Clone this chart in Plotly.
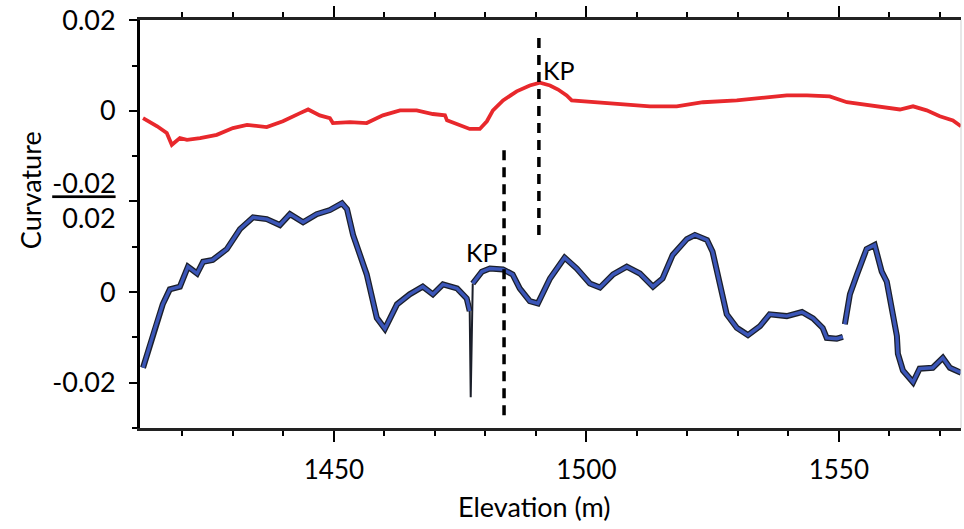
import plotly.graph_objects as go

# Upper profile (red): curvature vs elevation
red_elev = [1412.2, 1415.0, 1416.9, 1417.9, 1419.5, 1420.9, 1423.5, 1426.8, 1430.0, 1432.8,
            1436.7, 1439.9, 1443.3, 1444.9, 1447.2, 1449.2, 1449.8, 1453.2, 1456.5, 1459.7,
            1463.1, 1466.4, 1469.6, 1472.0, 1472.4, 1474.9, 1476.9, 1478.9, 1480.3, 1481.5,
            1483.5, 1486.2, 1488.8, 1490.8, 1492.8, 1494.4, 1496.1, 1497.1, 1499.3, 1502.7,
            1506.0, 1509.2, 1512.6, 1517.9, 1523.1, 1529.8, 1535.7, 1539.7, 1543.7, 1548.2,
            1551.6, 1554.8, 1559.5, 1562.1, 1564.7, 1567.4, 1570.0, 1572.6, 1574.2]
red_curv = [-0.0016, -0.0034, -0.0049, -0.0075, -0.0060, -0.0064, -0.0060, -0.0053, -0.0038, -0.0031,
            -0.0036, -0.0023, -0.0005, 0.0003, -0.0010, -0.0016, -0.0027, -0.0025, -0.0027, -0.0010,
            0.0001, 0.0001, -0.0007, -0.0010, -0.0021, -0.0031, -0.0040, -0.0040, -0.0023, 0.0001,
            0.0023, 0.0043, 0.0056, 0.0062, 0.0056, 0.0047, 0.0034, 0.0023, 0.0021, 0.0019,
            0.0014, 0.0012, 0.0010, 0.0010, 0.0019, 0.0023, 0.0030, 0.0034, 0.0034, 0.0032,
            0.0019, 0.0014, 0.0008, 0.0003, 0.0010, 0.0001, -0.0012, -0.0021, -0.0034]

# Lower profile (blue): curvature vs elevation (None marks a break in the record)
blue_elev = [1412.2, 1413.0, 1414.6, 1416.1, 1417.5, 1419.5, 1421.1, 1422.9, 1424.1, 1426.0,
             1428.8, 1431.4, 1434.0, 1436.7, 1439.3, 1441.3, 1443.9, 1446.6, 1449.2, 1451.6,
             1452.6, 1453.8, 1456.5, 1458.5, 1460.1, 1462.5, 1465.0, 1467.6, 1469.6, 1471.6,
             1474.4, 1476.3, 1476.9, None, 1477.5, 1479.3, 1480.9, 1483.5, 1485.4, 1486.8,
             1488.8, 1490.4, 1492.8, 1495.7, 1498.1, 1500.7, 1502.7, 1505.3, 1508.0, 1510.6,
             1513.2, 1515.1, 1517.1, 1519.9, 1521.5, 1523.9, 1525.0, 1526.4, 1527.8, 1529.8,
             1532.0, 1534.4, 1536.3, 1539.7, 1542.7, 1544.9, 1546.8, 1547.6, 1549.6, 1550.8,
             None, 1551.2, 1552.2, 1553.6, 1555.5, 1557.1, 1557.7, 1558.5, 1559.5, 1560.5,
             1561.1, 1561.5, 1561.7, 1562.7, 1564.7, 1566.0, 1568.6, 1570.6, 1572.0, 1574.2]
blue_curv = [-0.0167, -0.0136, -0.0079, -0.0027, 0.0006, 0.0012, 0.0056, 0.0041, 0.0067, 0.0071,
             0.0095, 0.0139, 0.0165, 0.0161, 0.0148, 0.0172, 0.0154, 0.0172, 0.0181, 0.0196,
             0.0183, 0.0126, 0.0039, -0.0057, -0.0081, -0.0027, -0.0005, 0.0012, -0.0005, 0.0017,
             0.0008, -0.0014, -0.0042, None, 0.0019, 0.0045, 0.0052, 0.0050, 0.0039, 0.0008,
             -0.0020, -0.0025, 0.0030, 0.0076, 0.0052, 0.0019, 0.0010, 0.0039, 0.0056, 0.0041,
             0.0012, 0.0030, 0.0082, 0.0117, 0.0126, 0.0115, 0.0089, 0.0017, -0.0049, -0.0079,
             -0.0095, -0.0075, -0.0049, -0.0053, -0.0044, -0.0058, -0.0079, -0.0101, -0.0103, -0.0099,
             None, -0.0071, -0.0005, 0.0039, 0.0095, 0.0104, 0.0078, 0.0045, 0.0023, -0.0036,
             -0.0079, -0.0097, -0.0136, -0.0173, -0.0199, -0.0169, -0.0167, -0.0145, -0.0167, -0.0178]

# Narrow negative spike in the lower profile, just below the knick point
spike_elev = [1476.9, 1477.1, 1477.5]
spike_curv = [-0.0042, -0.0232, 0.0019]

# Knick points (elevation, dashed-line extent in curvature units)
kp_red = dict(elev=1490.6, lo=-0.0274, hi=0.0163, label_y=0.0091)
kp_blue = dict(elev=1483.7, lo=-0.0272, hi=0.0318, label_y=0.0089)

# Shared left axis: lower profile on y, upper profile on y2 (shifted by 0.04)
y_tickvals = [-0.02, 0, 0.02, 0.04, 0.06]
y_ticktext = ["-0.02", "0", "<u>-0.02</u><br>0.02", "0", "0.02"]

FONT = "Lato, 'Open Sans', sans-serif"

fig = go.Figure()

fig.add_trace(go.Scatter(x=red_elev, y=red_curv, mode="lines", yaxis="y2",
                         line=dict(color="#e8282c", width=3.8), hoverinfo="skip",
                         connectgaps=False))
fig.add_trace(go.Scatter(x=spike_elev, y=spike_curv, mode="lines",
                         line=dict(color="#1b1f2a", width=2), hoverinfo="skip"))
fig.add_trace(go.Scatter(x=blue_elev, y=blue_curv, mode="lines",
                         line=dict(color="#1b1f2a", width=6), hoverinfo="skip",
                         connectgaps=False))
fig.add_trace(go.Scatter(x=blue_elev, y=blue_curv, mode="lines",
                         line=dict(color="#3b56b8", width=3.4), hoverinfo="skip",
                         connectgaps=False))

dash_style = dict(color="black", width=3.5, dash="10px,7px")
fig.add_shape(type="line", xref="x", yref="y2", x0=kp_red["elev"], x1=kp_red["elev"],
              y0=kp_red["lo"], y1=kp_red["hi"], line=dash_style)
fig.add_shape(type="line", xref="x", yref="y", x0=kp_blue["elev"], x1=kp_blue["elev"],
              y0=kp_blue["lo"], y1=kp_blue["hi"], line=dash_style)
# faint right-hand frame edge
fig.add_shape(type="line", xref="paper", yref="paper", x0=1, x1=1, y0=0, y1=1,
              line=dict(color="#cfcfcf", width=1))

fig.add_annotation(x=kp_red["elev"] + 0.4, y=kp_red["label_y"], xref="x", yref="y2",
                   text="KP", showarrow=False, xanchor="left", yanchor="middle",
                   font=dict(family=FONT, size=25, color="black"))
fig.add_annotation(x=kp_blue["elev"] - 0.9, y=kp_blue["label_y"], xref="x", yref="y",
                   text="KP", showarrow=False, xanchor="right", yanchor="middle",
                   font=dict(family=FONT, size=25, color="black"))

fig.add_annotation(x=-0.133, y=0.5825, xref="paper", yref="paper", text="Curvature",
                   textangle=-90, showarrow=False, xanchor="center", yanchor="middle",
                   font=dict(family=FONT, size=27, color="black"))
fig.add_annotation(x=0.48, y=-0.192, xref="paper", yref="paper", text="Elevation (m)",
                   showarrow=False, xanchor="center", yanchor="middle",
                   font=dict(family=FONT, size=27, color="black"))

fig.update_layout(
    width=964, height=529,
    margin=dict(l=140, r=3, t=16, b=101),
    paper_bgcolor="white", plot_bgcolor="white",
    showlegend=False,
    font=dict(family=FONT, color="black"),
    xaxis=dict(range=[1411.6, 1574.2], tickmode="linear", tick0=1450, dtick=50,
               ticks="outside", ticklen=11, tickwidth=2, tickcolor="black",
               showline=True, linewidth=3, linecolor="#222", mirror="ticks",
               showgrid=False, zeroline=False, ticklabelstandoff=6,
               ticklabeloverflow="allow",
               tickfont=dict(family=FONT, size=26, color="black"),
               minor=dict(tick0=1450, dtick=10, ticks="outside", ticklen=5,
                          tickwidth=2, tickcolor="black", showgrid=False)),
    yaxis=dict(range=[-0.03, 0.06005], tickmode="array", tickvals=y_tickvals,
               ticktext=y_ticktext, ticks="outside", ticklen=8, tickwidth=2,
               tickcolor="black", showline=True, linewidth=3, linecolor="black",
               showgrid=False, zeroline=False, ticklabelstandoff=8,
               ticklabeloverflow="allow",
               tickfont=dict(family=FONT, size=27, color="black"),
               minor=dict(tick0=0, dtick=0.01, ticks="outside", ticklen=5,
                          tickwidth=2, tickcolor="black", showgrid=False)),
    yaxis2=dict(range=[-0.07, 0.02005], overlaying="y", visible=False,
                showgrid=False, zeroline=False),
)

fig.write_html("out.html")
